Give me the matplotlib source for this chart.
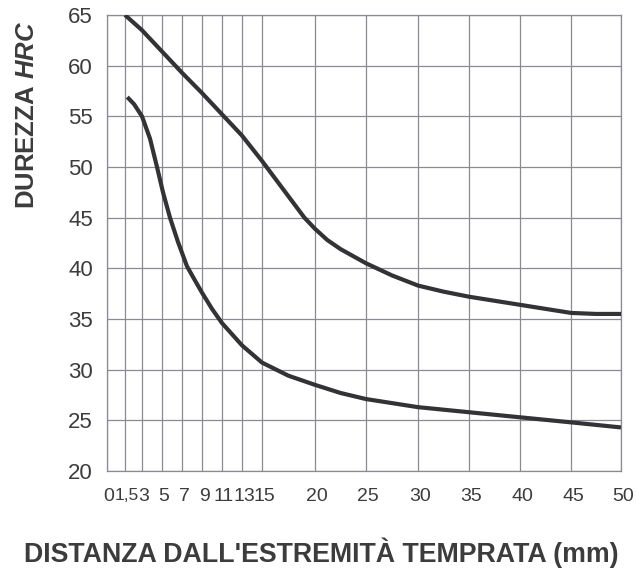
import matplotlib
matplotlib.use("Agg")
import matplotlib.pyplot as plt
import matplotlib.transforms as mtransforms
import numpy as np

plt.rcParams['font.family'] = ['Liberation Sans', 'DejaVu Sans']
plt.rcParams['mathtext.fontset'] = 'custom'
plt.rcParams['mathtext.it'] = 'Liberation Sans:bold:italic'
plt.rcParams['mathtext.rm'] = 'Liberation Sans:bold'

# distanza dall'estremita temprata (mm) e relative posizioni sulla scala della griglia
x_ticks = [0, 1.5, 3, 5, 7, 9, 11, 13, 15, 20, 25, 30, 35, 40, 45, 50]
x_tick_labels = ['0', '1,5', '3', '5', '7', '9', '11', '13', '15',
                 '20', '25', '30', '35', '40', '45', '50']
scale_pos = [0, 18, 35, 55, 75, 95, 115, 135, 155, 208, 259, 311, 362, 413, 464, 514]

y_ticks = [20, 25, 30, 35, 40, 45, 50, 55, 60, 65]

# curva superiore (banda max)
upper_mm = [1.5, 3, 5, 7, 9, 11, 13, 15, 16.5, 18, 19, 20, 21.2, 22.5, 25, 27.5, 30,
            32.5, 35, 40, 45, 47.5, 50]
upper_hrc = [65, 63.5, 61.4, 59.3, 57.3, 55.2, 53.1, 50.6, 48.5, 46.4, 45.0, 43.9, 42.8,
             41.9, 40.5, 39.3, 38.3, 37.7, 37.2, 36.4, 35.6, 35.5, 35.5]

# curva inferiore (banda min)
lower_mm = [1.7, 2.3, 3, 3.8, 4.5, 5.1, 5.8, 6.6, 7.5, 8.3, 9, 10, 11, 13, 15, 17.5, 20,
            22.5, 25, 30, 35, 40, 45, 50]
lower_hrc = [56.9, 56.2, 55.0, 52.8, 50.0, 47.5, 45.0, 42.6, 40.2, 38.8, 37.6, 36.0, 34.6,
             32.4, 30.7, 29.4, 28.5, 27.7, 27.1, 26.3, 25.8, 25.3, 24.8, 24.3]


def fwd(x):
    return np.interp(x, x_ticks, scale_pos)


def inv(p):
    return np.interp(p, scale_pos, x_ticks)


fig = plt.figure(figsize=(6.36, 5.69), dpi=100)
ax = fig.add_axes([107 / 636, 1 - 471 / 569, 514 / 636, 456 / 569])
ax.set_xscale('function', functions=(fwd, inv))

grid_c = '#8d8895'
curve_c = '#333336'
text_c = '#3c3c3c'

ax.plot(upper_mm, upper_hrc, color=curve_c, lw=3.0, solid_capstyle='butt', zorder=3)
ax.plot(lower_mm, lower_hrc, color=curve_c, lw=3.0, solid_capstyle='butt', zorder=3)

ax.set_xlim(0, 50)
ax.set_ylim(20, 65)
ax.set_xticks(x_ticks)
ax.set_xticklabels(x_tick_labels)
ax.set_yticks(y_ticks)
ax.minorticks_off()
ax.grid(True, color=grid_c, lw=0.9)
ax.set_axisbelow(True)
for s in ax.spines.values():
    s.set_color(grid_c)
    s.set_linewidth(0.9)

ax.tick_params(axis='both', length=0, colors=text_c)
ax.tick_params(axis='x', pad=12, labelsize=14)
ax.tick_params(axis='y', pad=10, labelsize=16)

# etichette dell'asse x leggermente spostate a destra come nell'originale
shift = mtransforms.ScaledTranslation(2 / 100, 0, fig.dpi_scale_trans)
for lab in ax.get_xticklabels():
    lab.set_transform(lab.get_transform() + shift)
    if lab.get_text() == '1,5':
        lab.set_fontsize(12.5)

ax.set_xlabel("DISTANZA DALL'ESTREMITÀ TEMPRATA (mm)", fontsize=19.3, fontweight='bold',
              color=text_c)
ax.xaxis.set_label_coords((321 - 107) / 514, (471 - 553) / 456)
ax.xaxis.label.set_va('center')
ax.set_ylabel("DUREZZA $HRC$", fontsize=18.5, fontweight='bold', color=text_c)
ax.yaxis.set_label_coords((27 - 107) / 514, (471 - 115) / 456)
ax.yaxis.label.set_va('center')

fig.savefig('out.png', dpi=100, facecolor='white')
